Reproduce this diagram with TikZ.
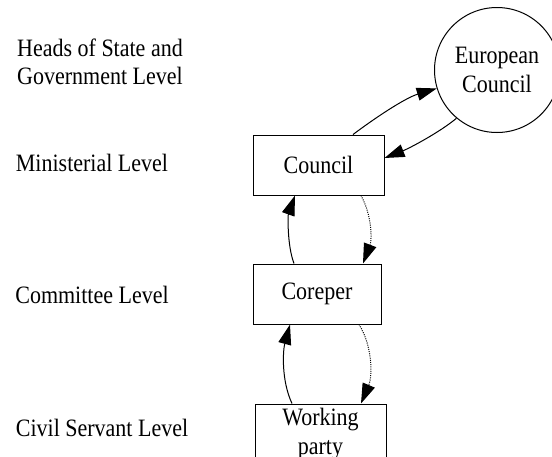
\documentclass[tikz,border=0pt]{standalone}
\usepackage{fontspec}
\setmainfont[FakeStretch=0.88]{Liberation Serif}
\usetikzlibrary{arrows.meta}
\begin{document}
\begin{tikzpicture}[x=1pt,y=-1pt,
  every node/.style={font=\fontsize{25}{28.5}\selectfont},
  box/.style={draw,line width=1pt,minimum height=60pt,inner sep=0pt,align=center},
  lvl/.style={align=center,inner sep=0pt},
  conn/.style={line width=1pt,-{Triangle[length=20pt,width=13pt]}},
  dconn/.style={conn,dash pattern=on 1pt off 1.2pt}]
\useasboundingbox (0,0) rectangle (552,456);
\node[lvl] (l1) at (100,62) {Heads of State and\\Government Level};
\node[lvl] (l2) at (92,163) {Ministerial Level};
\node[lvl] (l3) at (92,295) {Committee Level};
\node[lvl] (l4) at (102,428) {Civil Servant Level};
\node[box,minimum width=131pt] (council) at (318.5,165) {Council};
\node[box,minimum width=128pt] (coreper) at (317,294) {Coreper};
\node[box,minimum width=131pt] (wp) at (320.5,434) {Working\\party};
\node[draw,circle,line width=1pt,minimum size=125pt,inner sep=0pt,align=center] (ec) at (497,70) {European\\Council};
\draw[conn] ([xshift=34.5pt]council.north) .. controls (375,118) and (405,98) .. (ec.197);
\draw[conn] (ec.230) .. controls (440,132) and (410,148) .. ([yshift=7pt]council.east);
\draw[conn] ([xshift=-23pt]coreper.north) .. controls (287,245) and (288,215) .. ([xshift=-23.5pt]council.south);
\draw[dconn] ([xshift=42.5pt]council.south) .. controls (372,215) and (372,240) .. ([xshift=46pt]coreper.north);
\draw[conn] ([xshift=-28.5pt]wp.north) .. controls (281,380) and (283,350) .. ([xshift=-27pt]coreper.south);
\draw[dconn] ([xshift=42pt]coreper.south) .. controls (372,345) and (373,375) .. ([xshift=40.5pt]wp.north);
\end{tikzpicture}
\end{document}
